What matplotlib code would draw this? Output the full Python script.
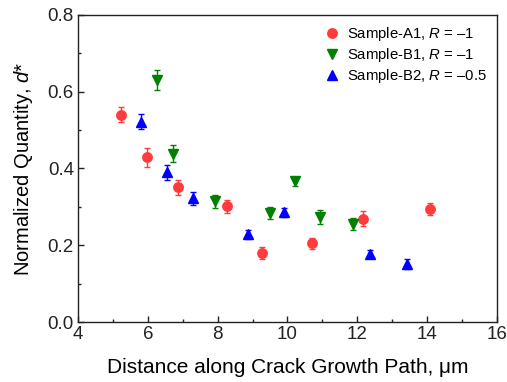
import numpy as np
import matplotlib.pyplot as plt
from matplotlib.ticker import MultipleLocator

plt.rcParams['font.family'] = ['Liberation Sans', 'DejaVu Sans']
plt.rcParams['mathtext.fontset'] = 'custom'
plt.rcParams['mathtext.it'] = 'Liberation Sans:italic'
plt.rcParams['mathtext.rm'] = 'Liberation Sans'

# Sample-A1, R = -1
a1_x = [5.22, 5.97, 6.86, 8.27, 9.26, 10.70, 12.17, 14.09]
a1_y = [0.540, 0.429, 0.351, 0.301, 0.180, 0.205, 0.269, 0.294]
a1_err = [0.019, 0.024, 0.020, 0.018, 0.015, 0.015, 0.020, 0.015]

# Sample-B1, R = -1
b1_x = [6.25, 6.71, 7.93, 9.49, 10.23, 10.92, 11.88]
b1_y = [0.631, 0.438, 0.314, 0.284, 0.367, 0.273, 0.255]
b1_err = [0.026, 0.022, 0.017, 0.015, 0.012, 0.018, 0.015]

# Sample-B2, R = -0.5
b2_x = [5.81, 6.55, 7.29, 8.87, 9.91, 12.36, 13.42]
b2_y = [0.522, 0.390, 0.322, 0.229, 0.286, 0.178, 0.150]
b2_err = [0.020, 0.020, 0.017, 0.012, 0.012, 0.010, 0.013]

series = [
    (a1_x, a1_y, a1_err, '#ff3b3b', 'o', 'Sample-A1, $R$ = \u20131'),
    (b1_x, b1_y, b1_err, '#008000', 'v', 'Sample-B1, $R$ = \u20131'),
    (b2_x, b2_y, b2_err, '#0000ff', '^', 'Sample-B2, $R$ = \u20130.5'),
]

fig = plt.figure(figsize=(5.07, 3.82), dpi=100)
ax = fig.add_axes([0.154, 0.157, 0.826, 0.804])

for x, y, err, color, marker, label in series:
    ax.errorbar(x, y, yerr=err, fmt='none', ecolor=color, elinewidth=1.0,
                capsize=2.5, capthick=1.0)
    ax.plot(x, y, linestyle='none', marker=marker, color=color,
            markersize=6.8, label=label)

ax.set_xlim(4, 16)
ax.set_ylim(0.0, 0.8)
ax.xaxis.set_major_locator(MultipleLocator(2))
ax.xaxis.set_minor_locator(MultipleLocator(1))
ax.yaxis.set_major_locator(MultipleLocator(0.2))
ax.yaxis.set_minor_locator(MultipleLocator(0.1))
ax.yaxis.set_major_formatter(plt.FormatStrFormatter('%.1f'))
ax.tick_params(which='both', direction='in', top=False, right=False,
               labelsize=13.5, width=1.0, colors='#222222', pad=3)
ax.tick_params(which='major', length=4)
ax.tick_params(which='minor', length=2.5)
for s in ax.spines.values():
    s.set_linewidth(1.0)
    s.set_color('#222222')

ax.set_xlabel('Distance along Crack Growth Path, \u03bcm', fontsize=15, labelpad=11)
ax.set_ylabel('Normalized Quantity, $d$*', fontsize=14.5, labelpad=9)

ax.legend(loc='upper right', frameon=False, fontsize=10.7, handletextpad=0.4,
          handlelength=1.2, labelspacing=0.2, borderaxespad=0.3)

fig.savefig('out.png', dpi=100)
